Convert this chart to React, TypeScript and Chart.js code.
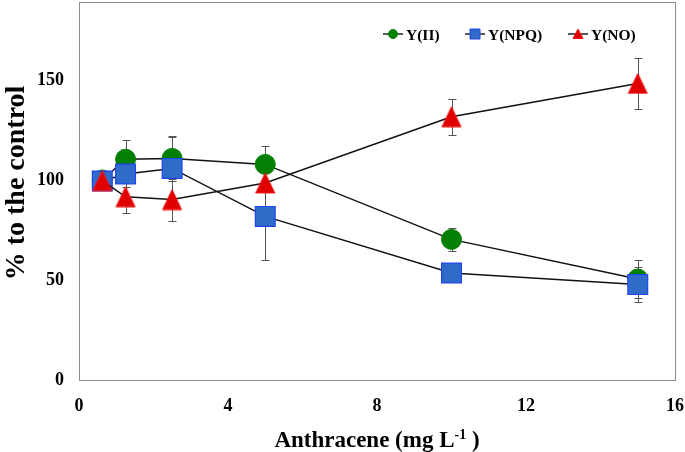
import React, { useEffect, useRef } from "react";
import { Chart, registerables } from "chart.js";

Chart.register(...registerables);

const concentrations = [0.625, 1.25, 2.5, 5, 10, 15];
const yII = [100, 110.4, 110.8, 107.8, 70.3, 50.5];
const yIIErr = [0, 9.6, 11.2, 9.2, 5.8, 9.5];
const yNPQ = [99.5, 103, 105.8, 81.8, 53.5, 47.7];
const yNPQErr = [0, 6.5, 15.7, 21.8, 2, 8.7];
const yNO = [99.7, 91.6, 90.2, 98.5, 131.6, 148.3];
const yNOErr = [0, 7.9, 10.5, 0, 9.1, 12.8];
const xTicks = [0, 4, 8, 12, 16];
const yTicks = [0, 50, 100, 150];
const seriesNames = ["Y(II)", "Y(NPQ)", "Y(NO)"];

const FONT = "'Liberation Serif', 'Times New Roman', serif";

function makeTriangle(): HTMLCanvasElement {
  const c = document.createElement("canvas");
  c.width = 22;
  c.height = 22;
  const g = c.getContext("2d")!;
  g.beginPath();
  g.moveTo(11, 1);
  g.lineTo(20.5, 21);
  g.lineTo(1.5, 21);
  g.closePath();
  g.fillStyle = "#e00000";
  g.fill();
  g.strokeStyle = "#f01818";
  g.lineWidth = 1;
  g.stroke();
  return c;
}

const errorBarPlugin = {
  id: "errorBars",
  beforeDatasetsDraw(chart: any) {
    const ctx = chart.ctx;
    const xs = chart.scales.x;
    const ys = chart.scales.y;
    ctx.save();
    ctx.strokeStyle = "#555555";
    ctx.lineWidth = 1;
    chart.data.datasets.forEach((ds: any) => {
      const errs: number[] = ds.errors || [];
      ds.data.forEach((p: any, i: number) => {
        const e = errs[i];
        if (!e) return;
        const px = Math.round(xs.getPixelForValue(p.x)) + 0.5;
        const top = Math.round(ys.getPixelForValue(p.y + e)) + 0.5;
        const bot = Math.round(ys.getPixelForValue(p.y - e)) + 0.5;
        ctx.beginPath();
        ctx.moveTo(px, top);
        ctx.lineTo(px, bot);
        ctx.moveTo(px - 4, top);
        ctx.lineTo(px + 4, top);
        ctx.moveTo(px - 4, bot);
        ctx.lineTo(px + 4, bot);
        ctx.stroke();
      });
    });
    ctx.restore();
  },
};

const framePlugin = {
  id: "frame",
  beforeDatasetsDraw(chart: any) {
    const { ctx, chartArea } = chart;
    ctx.save();
    ctx.strokeStyle = "#8c8c8c";
    ctx.lineWidth = 1;
    ctx.strokeRect(
      Math.round(chartArea.left) + 0.5,
      Math.round(chartArea.top) + 0.5,
      Math.round(chartArea.right - chartArea.left),
      Math.round(chartArea.bottom - chartArea.top)
    );
    ctx.restore();
  },
};

const legendPlugin = {
  id: "customLegend",
  afterDraw(chart: any) {
    const ctx = chart.ctx;
    const y = 34;
    const items = [
      { x: 393, ds: chart.data.datasets[0] },
      { x: 475, ds: chart.data.datasets[1] },
      { x: 578, ds: chart.data.datasets[2] },
    ];
    ctx.save();
    items.forEach((it) => {
      ctx.strokeStyle = "#222";
      ctx.lineWidth = 1.5;
      ctx.beginPath();
      ctx.moveTo(it.x - 10, y);
      ctx.lineTo(it.x + 10, y);
      ctx.stroke();
      const ds = it.ds;
      ctx.fillStyle = ds.markerFill;
      ctx.strokeStyle = ds.markerStroke;
      ctx.lineWidth = 1;
      ctx.beginPath();
      if (ds.marker === "circle") {
        ctx.arc(it.x, y, 4.5, 0, Math.PI * 2);
      } else if (ds.marker === "rect") {
        ctx.rect(it.x - 5, y - 5, 10, 10);
      } else {
        ctx.moveTo(it.x, y - 5);
        ctx.lineTo(it.x + 5, y + 4.5);
        ctx.lineTo(it.x - 5, y + 4.5);
        ctx.closePath();
      }
      ctx.fill();
      ctx.stroke();
      ctx.fillStyle = "#000";
      ctx.font = `bold 15.5px ${FONT}`;
      ctx.textBaseline = "alphabetic";
      ctx.textAlign = "left";
      ctx.fillText(ds.label, it.x + 13, y + 6);
    });
    ctx.restore();
  },
};

const titlesPlugin = {
  id: "titles",
  afterDraw(chart: any) {
    const { ctx, chartArea } = chart;
    ctx.save();
    ctx.fillStyle = "#000";
    ctx.textAlign = "left";
    ctx.textBaseline = "alphabetic";
    // x title with superscript
    const cx = (chartArea.left + chartArea.right) / 2;
    const base = 447;
    const p1 = "Anthracene (mg L";
    const p2 = "-1";
    const p3 = " )";
    ctx.font = `bold 23px ${FONT}`;
    const w1 = ctx.measureText(p1).width;
    const w3 = ctx.measureText(p3).width;
    ctx.font = `bold 14px ${FONT}`;
    const w2 = ctx.measureText(p2).width;
    let x = cx - (w1 + w2 + w3) / 2;
    ctx.font = `bold 23px ${FONT}`;
    ctx.fillText(p1, x, base);
    x += w1;
    ctx.font = `bold 14px ${FONT}`;
    ctx.fillText(p2, x, base - 8);
    x += w2;
    ctx.font = `bold 23px ${FONT}`;
    ctx.fillText(p3, x, base);
    // y title
    ctx.translate(24, 183);
    ctx.rotate(-Math.PI / 2);
    ctx.textAlign = "center";
    ctx.font = `bold 28px ${FONT}`;
    ctx.fillText("% to the control", 0, 0);
    ctx.restore();
  },
};

function toPoints(vals: number[]) {
  return vals.map((v, i) => ({ x: concentrations[i], y: v }));
}

function zeroPadding(s: any) {
  s.paddingTop = 0;
  s.paddingBottom = 0;
  s.paddingLeft = 0;
  s.paddingRight = 0;
}

export default function App() {
  const ref = useRef<HTMLCanvasElement>(null);
  useEffect(() => {
    document.body.style.margin = "0";
    const canvas = ref.current!;
    const tri = makeTriangle();
    const chart = new Chart(canvas, {
      type: "line",
      data: {
        datasets: [
          {
            label: seriesNames[0],
            data: toPoints(yII),
            errors: yIIErr,
            marker: "circle",
            markerFill: "#037f03",
            markerStroke: "#037f03",
            order: 3,
            borderColor: "#111",
            borderWidth: 1.5,
            pointStyle: "circle",
            pointRadius: 10,
            pointBackgroundColor: "#037f03",
            pointBorderColor: "#037f03",
            pointBorderWidth: 1,
          } as any,
          {
            label: seriesNames[1],
            data: toPoints(yNPQ),
            errors: yNPQErr,
            marker: "rect",
            markerFill: "#2f6cc9",
            markerStroke: "#2244ee",
            order: 2,
            borderColor: "#111",
            borderWidth: 1.5,
            pointStyle: "rect",
            pointRadius: 14,
            pointBackgroundColor: "#2f6cc9",
            pointBorderColor: "#2244ee",
            pointBorderWidth: 1.2,
          } as any,
          {
            label: seriesNames[2],
            data: toPoints(yNO),
            errors: yNOErr,
            marker: "triangle",
            markerFill: "#e00000",
            markerStroke: "#f01818",
            order: 1,
            borderColor: "#111",
            borderWidth: 1.5,
            pointStyle: tri,
            pointRadius: 11,
          } as any,
        ],
      },
      options: {
        responsive: false,
        animation: false,
        events: [],
        layout: { autoPadding: false, padding: { top: 2, right: 10, left: 0, bottom: 0 } },
        plugins: {
          legend: { display: false },
          tooltip: { enabled: false },
        },
        scales: {
          x: {
            type: "linear",
            min: 0,
            max: 16,
            afterBuildTicks: (s: any) => {
              s.ticks = xTicks.map((v) => ({ value: v }));
            },
            afterFit: (s: any) => {
              s.height = 72;
              zeroPadding(s);
            },
            grid: { display: false, drawTicks: false },
            border: { display: false },
            ticks: {
              padding: 16,
              color: "#000",
              font: { family: FONT, size: 18, weight: "bold" },
              maxRotation: 0,
            },
          },
          y: {
            type: "linear",
            min: 0,
            max: 189,
            afterBuildTicks: (s: any) => {
              s.ticks = yTicks.map((v) => ({ value: v }));
            },
            afterFit: (s: any) => {
              s.width = 79;
              zeroPadding(s);
            },
            grid: { display: false, drawTicks: false },
            border: { display: false },
            ticks: {
              padding: 15,
              color: "#000",
              font: { family: FONT, size: 18, weight: "bold" },
            },
          },
        },
      } as any,
      plugins: [framePlugin, errorBarPlugin, legendPlugin, titlesPlugin],
    });
    return () => chart.destroy();
  }, []);
  return (
    <div style={{ width: 685, height: 452, background: "#fff" }}>
      <canvas ref={ref} width={685} height={452} />
    </div>
  );
}
